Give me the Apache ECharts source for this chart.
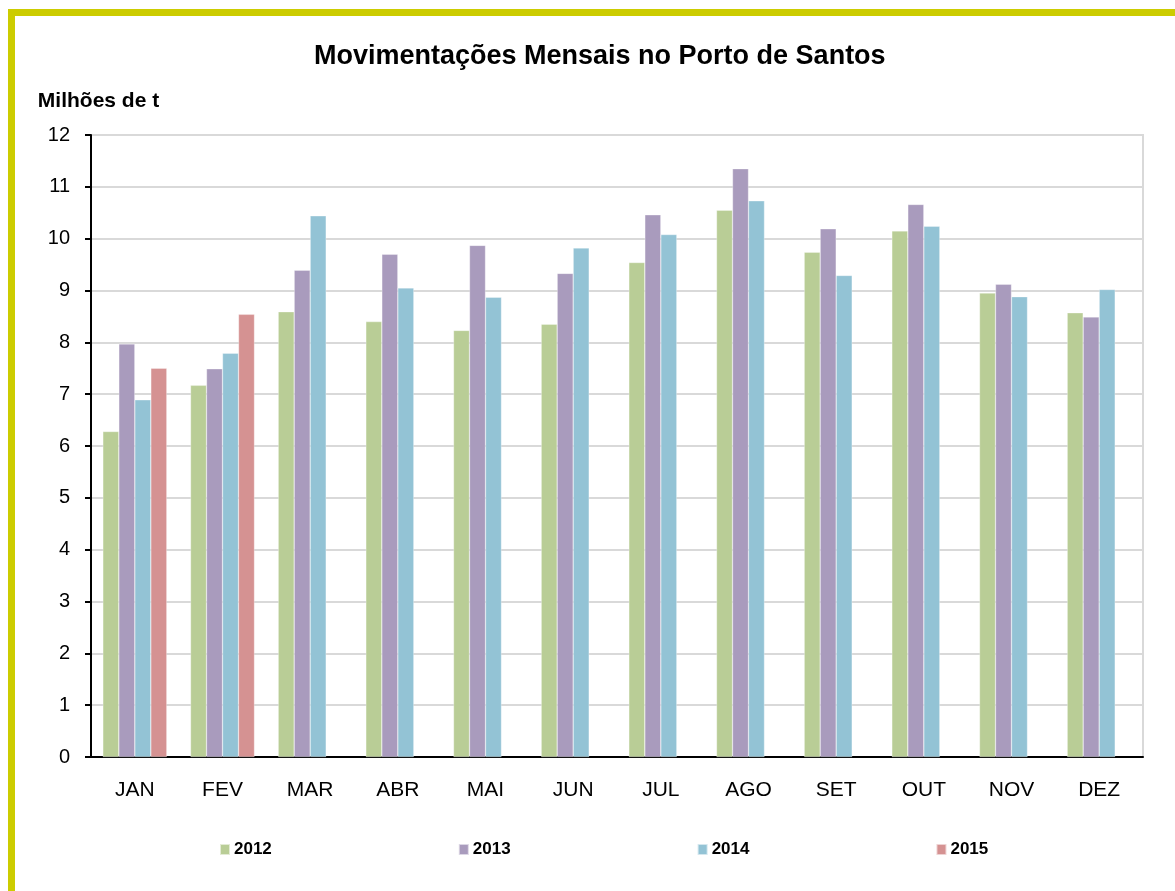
<!DOCTYPE html>
<html>
<head>
    <meta charset="utf-8">
    <title>Movimentações Mensais no Porto de Santos</title>
    <script src="https://cdn.jsdelivr.net/npm/echarts@6/dist/echarts.min.js"></script>
    <style>
        html, body { margin: 0; padding: 0; background: #fff; overflow: hidden; }
    </style>
</head>
<body>
<div id="main" style="width: 1175px; height: 891px;"></div>
<script type="text/javascript">
    // meses e valores (milhões de t)
    let meses = ['JAN', 'FEV', 'MAR', 'ABR', 'MAI', 'JUN', 'JUL', 'AGO', 'SET', 'OUT', 'NOV', 'DEZ'];
    let anos = ['2012', '2013', '2014', '2015'];
    let v2012 = [6.28, 7.17, 8.59, 8.40, 8.23, 8.35, 9.54, 10.55, 9.74, 10.15, 8.95, 8.57];
    let v2013 = [7.97, 7.49, 9.39, 9.70, 9.87, 9.33, 10.46, 11.35, 10.19, 10.66, 9.12, 8.49];
    let v2014 = [6.89, 7.79, 10.44, 9.05, 8.87, 9.82, 10.08, 10.73, 9.29, 10.24, 8.88, 9.02];
    let v2015 = [7.50, 8.54, null, null, null, null, null, null, null, null, null, null];
    let cores = ['#b9cd96', '#a99bbd', '#93c3d5', '#d59292'];

    let myChart = echarts.init(document.getElementById('main'));

    let serieDados = [v2012, v2013, v2014, v2015];
    let series = serieDados.map((dados, i) => ({
        name: anos[i],
        type: 'bar',
        data: dados,
        barGap: '0%',
        barCategoryGap: '27%',
        itemStyle: {
            color: cores[i],
            borderColor: 'rgba(255,255,255,0.6)',
            borderWidth: 0.5
        }
    }));

    let option = {
        animation: false,
        backgroundColor: '#fff',
        textStyle: { fontFamily: 'Liberation Sans, Arial, sans-serif' },
        title: {
            text: 'Movimentações Mensais no Porto de Santos',
            left: 309,
            top: 38,
            textStyle: { fontSize: 27, fontWeight: 'bold', color: '#000' }
        },
        // moldura amarela
        graphic: [{
            type: 'rect',
            shape: { x: 11.5, y: 12.5, width: 2000, height: 2000 },
            style: { fill: 'none', stroke: '#cccc00', lineWidth: 7 },
            silent: true
        }],
        legend: {
            data: anos,
            left: 214,
            top: 836,
            itemWidth: 10,
            itemHeight: 11,
            itemGap: 186,
            icon: 'rect',
            textStyle: { fontSize: 17, fontWeight: 'bold', color: '#000', padding: [0, 0, 0, -1] }
        },
        grid: {
            left: 91,
            right: 32,
            top: 135,
            bottom: 134,
            show: true,
            borderColor: '#d9d9d9',
            borderWidth: 2
        },
        xAxis: {
            type: 'category',
            data: meses,
            axisLine: { lineStyle: { color: '#000', width: 2 } },
            axisTick: { length: 7, lineStyle: { color: '#000', width: 2 } },
            axisLabel: { fontSize: 21, color: '#000', margin: 23 }
        },
        yAxis: {
            type: 'value',
            min: 0,
            max: 12,
            interval: 1,
            name: 'Milhões de t',
            nameLocation: 'end',
            nameGap: 23,
            nameTextStyle: { fontSize: 21, fontWeight: 'bold', color: '#000', padding: [0, 0, 0, 15] },
            axisLine: { show: true, lineStyle: { color: '#000', width: 2 } },
            axisTick: { show: true, length: 6, lineStyle: { color: '#000', width: 2 } },
            axisLabel: { fontSize: 20, color: '#000', margin: 21 },
            splitLine: { lineStyle: { color: '#d9d9d9', width: 2 } }
        },
        series: series
    };
    myChart.setOption(option);
</script>
</body>
</html>
